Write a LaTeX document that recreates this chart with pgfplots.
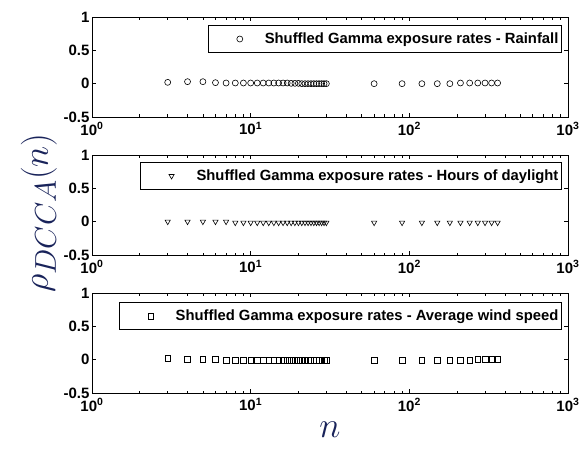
\documentclass[border=0pt]{standalone}
\usepackage{graphicx}
\usepackage{pgfplots}
\pgfplotsset{compat=1.18}
\usepackage{fontspec}
\setmainfont{Liberation Sans}

\definecolor{labblue}{RGB}{25,35,90}

\pgfplotsset{
  legend image code/.code={
    \path[draw=none] (0pt,0pt) -- (53pt,0pt);
    \draw[#1] plot coordinates {(31pt,0pt)};
  },
  panel/.style={
    scale only axis, width=476pt, height=100pt,
    xmin=1, xmax=1000,
    ymin=-0.5, ymax=1,
    xtick={1,10,100,1000},
    xticklabels={10\textsuperscript{0},10\textsuperscript{1},10\textsuperscript{2},10\textsuperscript{3}},
    ytick={-0.5,0,0.5,1},
    yticklabels={-0.5,0,0.5,1},
    tick align=inside,
    major tick length=4pt, minor tick length=2.5pt,
    axis line style={line width=0.9pt},
    every tick/.style={line width=0.7pt},
    ticklabel style={font=\bfseries\fontsize{15}{17}\selectfont},
    yticklabel style={xshift=1pt},
    xticklabel style={yshift=-2pt},
    only marks,
    legend cell align=left,
    legend style={draw=black, line width=0.8pt, inner xsep=0pt, inner ysep=1pt,
      font=\bfseries\fontsize{14.8}{17}\selectfont,
      nodes={inner xsep=3pt, inner ysep=6.5pt}},
  },
}

\begin{document}
\begin{tikzpicture}
\path[use as bounding box] (0,0) rectangle (582pt,448pt);

% Rainfall
\begin{semilogxaxis}[panel, at={(92pt,331pt)}, anchor=south west,
  legend style={at={(0.987,0.92)}, anchor=north east}]
\addplot[mark=o, mark size=3pt, black, line width=0.6pt] coordinates {
(3,0.02)(4,0.03)(5,0.03)(6,0.015)(7,0.01)(8,0.01)(9,0.01)(10,0.01)
(11,0.01)(12,0.01)(13,0.01)(14,0.01)(15,0.01)(16,0.01)(17,0.01)(18,0.005)
(19,0.005)(20,0.005)(21,0)(22,0)(23,0)(24,0)(25,0)(26,0)(27,0)(28,0)(29,0)(30,0)
(60,0)(90,0)(120,0)(150,0)(180,0)(210,0.01)(240,0.01)(270,0.01)(300,0.01)(330,0.01)(360,0.01)
};
\addlegendentry{Shuffled Gamma exposure rates - Rainfall}
\end{semilogxaxis}

% Hours of daylight
\begin{semilogxaxis}[panel, at={(92pt,193pt)}, anchor=south west,
  legend style={at={(0.987,0.93)}, anchor=north east},
  ylabel={\scalebox{1.45}{\fontsize{24.88}{28}\selectfont$\rho_{DCCA}(n)$}},
  ylabel style={text=labblue, xshift=-8pt, yshift=0pt}]
\addplot[mark=triangle, mark options={rotate=180}, mark size=3pt, black, line width=0.6pt] coordinates {
(3,0)(4,0)(5,0)(6,0)(7,0)(8,-0.015)(9,-0.015)(10,-0.015)
(11,-0.015)(12,-0.015)(13,-0.015)(14,-0.015)(15,-0.015)(16,-0.015)(17,-0.015)(18,-0.015)
(19,-0.015)(20,-0.015)(21,-0.015)(22,-0.015)(23,-0.015)(24,-0.015)(25,-0.015)(26,-0.015)
(27,-0.015)(28,-0.015)(29,-0.015)(30,-0.015)
(60,-0.015)(90,-0.015)(120,-0.015)(150,-0.015)(180,-0.015)(210,-0.015)(240,-0.015)
(270,-0.015)(300,-0.015)(330,-0.015)(360,-0.015)
};
\addlegendentry{Shuffled Gamma exposure rates - Hours of daylight}
\end{semilogxaxis}

% Average wind speed
\begin{semilogxaxis}[panel, at={(92pt,55pt)}, anchor=south west,
  legend style={at={(0.987,0.91)}, anchor=north east},
  xlabel={\scalebox{1.45}{\fontsize{24.88}{28}\selectfont$n$}},
  xlabel style={text=labblue, yshift=-6pt, inner ysep=1pt}]
\addplot[mark=square, mark size=2.8pt, black, line width=0.6pt] coordinates {
(3,0.02)(4,0.01)(5,0.01)(6,0.01)(7,-0.01)(8,-0.01)(9,-0.01)(10,-0.01)
(11,-0.01)(12,-0.01)(13,-0.01)(14,-0.01)(15,-0.01)(16,-0.01)(17,-0.01)(18,-0.01)
(19,-0.01)(20,-0.01)(21,-0.01)(22,-0.01)(23,-0.01)(24,-0.01)(25,-0.01)(26,-0.01)
(27,-0.01)(28,-0.01)(29,-0.01)(30,-0.01)
(60,-0.01)(90,-0.01)(120,-0.01)(150,-0.01)(180,-0.01)(210,-0.01)(240,-0.01)
(270,0.005)(300,0.005)(330,0.005)(360,0.005)
};
\addlegendentry{Shuffled Gamma exposure rates - Average wind speed}
\end{semilogxaxis}
\end{tikzpicture}
\end{document}
